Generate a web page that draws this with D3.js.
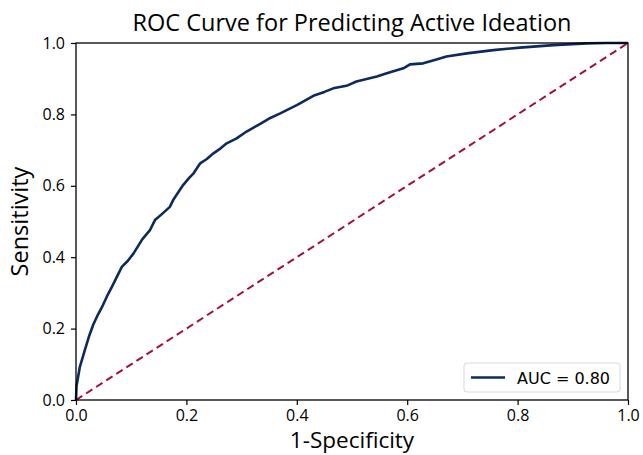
<!DOCTYPE html>
<html>
<head>
<meta charset="utf-8">
<script src="https://cdn.jsdelivr.net/npm/d3@7"></script>
<style>
  body { margin: 0; background: #fff; }
  text { fill: #000; }
</style>
</head>
<body>
<div id="chart"></div>
<script>
// ROC curve points
var fpr = [0, 0.001, 0.007, 0.016, 0.024, 0.031, 0.040, 0.047, 0.056, 0.065, 0.074, 0.083, 0.094, 0.104,
  0.120, 0.134, 0.143, 0.155, 0.170, 0.176, 0.182, 0.194, 0.205, 0.213, 0.225, 0.237, 0.249, 0.262,
  0.273, 0.291, 0.309, 0.333, 0.352, 0.370, 0.400, 0.430, 0.450, 0.466, 0.490, 0.508, 0.545, 0.563,
  0.593, 0.605, 0.629, 0.653, 0.671, 0.708, 0.756, 0.804, 0.865, 0.925, 0.961, 1.0];
var tpr = [0, 0.04, 0.093, 0.14, 0.18, 0.21, 0.24, 0.26, 0.29, 0.317, 0.345, 0.373, 0.39, 0.41,
  0.45, 0.476, 0.504, 0.52, 0.541, 0.56, 0.574, 0.602, 0.622, 0.635, 0.663, 0.675, 0.691, 0.705,
  0.719, 0.733, 0.752, 0.773, 0.79, 0.803, 0.826, 0.852, 0.863, 0.873, 0.880, 0.892, 0.906, 0.915,
  0.929, 0.940, 0.943, 0.954, 0.962, 0.971, 0.980, 0.987, 0.994, 0.999, 1.0, 1.0];
var chanceX = [0, 1];
var chanceY = [0, 1];
var ticks = [0, 0.2, 0.4, 0.6, 0.8, 1.0];
var aucLabel = "AUC = 0.80";

// Setting chart parameters
var svgWidth = 643;
var svgHeight = 455;
var margin = { top: 43, right: 15, bottom: 55, left: 76 };
var width = svgWidth - margin.left - margin.right;
var height = svgHeight - margin.top - margin.bottom;

var svg = d3.select("#chart").append("svg")
  .attr("width", svgWidth)
  .attr("height", svgHeight)
  .style("font-family", "'Open Sans', sans-serif");

var chart = svg.append("g").attr("transform", `translate(${margin.left}, ${margin.top})`);

var x = d3.scaleLinear().domain([0, 1]).range([0, width]);
var y = d3.scaleLinear().domain([0, 1]).range([height, 0]);

// axes
var bottomAxis = d3.axisBottom(x).tickValues(ticks).tickFormat(d3.format(".1f")).tickSize(5).tickPadding(5);
var leftAxis = d3.axisLeft(y).tickValues(ticks).tickFormat(d3.format(".1f")).tickSize(5).tickPadding(6);

var gx = chart.append("g").attr("transform", `translate(0, ${height})`).call(bottomAxis);
var gy = chart.append("g").call(leftAxis);
[gx, gy].forEach(function(g) {
  g.select(".domain").remove();
  g.selectAll("line").attr("stroke", "#000").attr("stroke-width", 1.2);
  g.selectAll("text").style("font-size", "16px").style("font-family", "'Open Sans', sans-serif").attr("fill", "#000");
});

// chance line
var line = d3.line().x(function(d) { return x(d[0]); }).y(function(d) { return y(d[1]); });
chart.append("path")
  .datum(d3.zip(chanceX, chanceY))
  .attr("d", line)
  .attr("fill", "none")
  .attr("stroke", "#a50d45")
  .attr("stroke-width", 2)
  .attr("stroke-dasharray", "7.5,4.5");

// roc curve
chart.append("path")
  .datum(d3.zip(fpr, tpr))
  .attr("d", line)
  .attr("fill", "none")
  .attr("stroke", "#0c2a5e")
  .attr("stroke-width", 2.6)
  .attr("stroke-linejoin", "round");

// frame
chart.append("rect")
  .attr("width", width).attr("height", height)
  .attr("fill", "none").attr("stroke", "#000").attr("stroke-width", 1.3);

// legend
var lg = chart.append("g").attr("transform", `translate(${width - 164}, ${height - 37})`);
lg.append("rect")
  .attr("width", 156).attr("height", 29).attr("rx", 3)
  .attr("fill", "#fff").attr("stroke", "#d9d9d9");
lg.append("line")
  .attr("x1", 7).attr("x2", 41).attr("y1", 14.5).attr("y2", 14.5)
  .attr("stroke", "#0c2a5e").attr("stroke-width", 2.6);
lg.append("text")
  .attr("x", 53).attr("y", 20.5)
  .style("font-family", "'DejaVu Sans', sans-serif")
  .style("font-size", "16px")
  .text(aucLabel);

// title and labels
svg.append("text")
  .attr("x", margin.left + width / 2).attr("y", 31)
  .attr("text-anchor", "middle")
  .style("font-size", "23.5px")
  .text("ROC Curve for Predicting Active Ideation");

svg.append("text")
  .attr("x", margin.left + width / 2).attr("y", 448)
  .attr("text-anchor", "middle")
  .style("font-size", "22.5px")
  .text("1-Specificity");

svg.append("text")
  .attr("transform", `translate(28, ${margin.top + height / 2}) rotate(-90)`)
  .attr("text-anchor", "middle")
  .style("font-size", "23.5px")
  .text("Sensitivity");
</script>
</body>
</html>
